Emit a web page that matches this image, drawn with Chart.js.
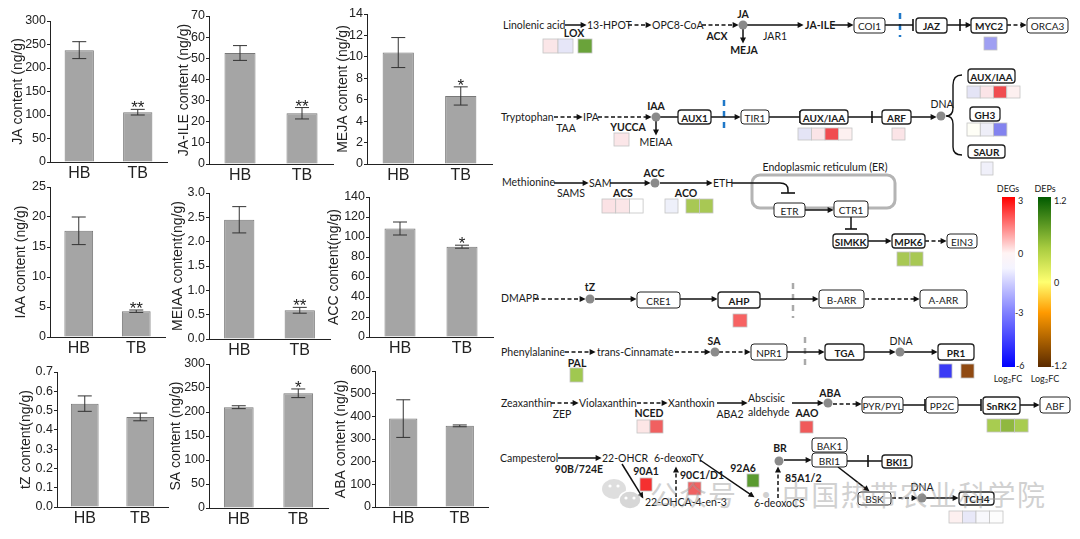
<!DOCTYPE html>
<html>
<head>
<meta charset="utf-8">
<script src="https://cdn.jsdelivr.net/npm/chart.js@4.4.1/dist/chart.umd.min.js"></script>
<style>
html, body { margin: 0; padding: 0; background: #fff; }
#page { position: relative; width: 1080px; height: 539px; overflow: hidden; background: #fff; }
#page canvas { position: absolute; }
#path { position: absolute; left: 0; top: 0; }
</style>
</head>
<body>
<div id="page"><svg id="path" width="1080" height="539"></svg></div>
<script>
// ---- data ----
const categories = ['HB', 'TB'];

const jaValues = [238, 106];      const jaErrors = [18, 6];       const jaStars = ['', '**'];
const jaileValues = [52.5, 24];   const jaileErrors = [3.5, 2.7]; const jaileStars = ['', '**'];
const mejaValues = [10.4, 6.35];  const mejaErrors = [1.4, 0.85]; const mejaStars = ['', '*'];
const iaaValues = [17.7, 4.3];    const iaaErrors = [2.3, 0.2];   const iaaStars = ['', '**'];
const meiaaValues = [2.45, 0.59]; const meiaaErrors = [0.27, 0.06]; const meiaaStars = ['', '**'];
const accValues = [108.5, 90.3];  const accErrors = [6.5, 1.5];   const accStars = ['', '*'];
const tzValues = [0.536, 0.467];  const tzErrors = [0.04, 0.02];  const tzStars = ['', ''];
const saValues = [210, 239];      const saErrors = [3, 9];        const saStars = ['', '*'];
const abaValues = [390, 358];     const abaErrors = [83, 4];      const abaStars = ['', ''];

// y axis: [min, max, step, decimals]
const jaTicks = [0, 300, 50, 0];
const jaileTicks = [0, 70, 10, 0];
const mejaTicks = [0, 14, 2, 0];
const iaaTicks = [0, 25, 5, 0];
const meiaaTicks = [0, 3, 0.5, 1];
const accTicks = [0, 140, 20, 0];
const tzTicks = [0, 0.7, 0.1, 1];
const saTicks = [0, 300, 50, 0];
const abaTicks = [0, 600, 100, 0];

const FONT = "'Liberation Sans', Arial, sans-serif";
const INK = '#222';

// draws the error bars and significance stars on top of the bars
const errorBars = {
    id: 'errorBars',
    afterDatasetsDraw(chart) {
        const ctx = chart.ctx;
        const y = chart.scales.y;
        const ds = chart.data.datasets[0];
        chart.getDatasetMeta(0).data.forEach((bar, i) => {
            const v = ds.data[i], e = ds.errors[i];
            const yTop = y.getPixelForValue(v + e);
            const yBot = y.getPixelForValue(v - e);
            ctx.save();
            ctx.strokeStyle = '#333';
            ctx.lineWidth = 1;
            ctx.beginPath();
            ctx.moveTo(bar.x, yTop); ctx.lineTo(bar.x, yBot);
            ctx.moveTo(bar.x - 7, yTop); ctx.lineTo(bar.x + 7, yTop);
            ctx.moveTo(bar.x - 7, yBot); ctx.lineTo(bar.x + 7, yBot);
            ctx.stroke();
            if (ds.stars[i]) {
                ctx.fillStyle = INK;
                ctx.font = '17px ' + FONT;
                ctx.textAlign = 'center';
                ctx.textBaseline = 'alphabetic';
                ctx.fillText(ds.stars[i], bar.x, yTop + 4);
            }
            ctx.restore();
        });
    }
};

function makeChart(box, values, errors, stars, ticks, title) {
    const left = Math.round(box.tx - 8.4);
    const top = box.pt - 10;
    const canvas = document.createElement('canvas');
    canvas.width = box.pr - left + 2;
    canvas.height = box.pb - top + 25;
    canvas.style.left = left + 'px';
    canvas.style.top = top + 'px';
    document.getElementById('page').appendChild(canvas);
    const yw = box.pl - left;

    new Chart(canvas.getContext('2d'), {
        type: 'bar',
        data: {
            labels: categories,
            datasets: [{
                data: values,
                errors: errors,
                stars: stars,
                backgroundColor: '#a5a5a5',
                borderColor: '#787878',
                borderWidth: 1,
                barPercentage: 0.5,
                categoryPercentage: 1
            }]
        },
        options: {
            responsive: false,
            animation: false,
            devicePixelRatio: 1,
            layout: { padding: { top: 10, right: 2, left: 0, bottom: 0 } },
            plugins: { legend: { display: false }, tooltip: { enabled: false } },
            scales: {
                x: {
                    grid: { display: false, drawTicks: false, tickLength: 0 },
                    border: { display: true, color: INK, width: 1 },
                    ticks: { color: INK, font: { family: FONT, size: 16 }, padding: 2, maxRotation: 0 },
                    afterFit: s => { s.height = 25; }
                },
                y: {
                    min: ticks[0],
                    max: ticks[1],
                    ticks: {
                        stepSize: ticks[2],
                        color: INK,
                        font: { family: FONT, size: 12.5 },
                        padding: 1,
                        callback: v => Number(v).toFixed(ticks[3])
                    },
                    grid: { drawOnChartArea: false, drawTicks: true, tickLength: 3, color: INK },
                    border: { color: INK, width: 1 },
                    title: { display: true, text: title, color: INK, font: { family: FONT, size: 14 }, padding: 0 },
                    afterFit: s => { s.width = yw; }
                }
            }
        },
        plugins: [errorBars]
    });
}

// plot area corners (pl, pt, pb, pr) and axis title centre (tx)
makeChart({ pl: 50, pt: 21, pb: 162, pr: 167, tx: 18 }, jaValues, jaErrors, jaStars, jaTicks, 'JA content (ng/g)');
makeChart({ pl: 209, pt: 16, pb: 164, pr: 333, tx: 184 }, jaileValues, jaileErrors, jaileStars, jaileTicks, 'JA-ILE content (ng/g)');
makeChart({ pl: 367, pt: 14, pb: 164, pr: 492, tx: 343 }, mejaValues, mejaErrors, mejaStars, mejaTicks, 'MEJA content (ng/g)');
makeChart({ pl: 50, pt: 187, pb: 337, pr: 165, tx: 21 }, iaaValues, iaaErrors, iaaStars, iaaTicks, 'IAA content (ng/g)');
makeChart({ pl: 209, pt: 193, pb: 339, pr: 330, tx: 178 }, meiaaValues, meiaaErrors, meiaaStars, meiaaTicks, 'MEIAA content(ng/g)');
makeChart({ pl: 369, pt: 197, pb: 337, pr: 493, tx: 334 }, accValues, accErrors, accStars, accTicks, 'ACC content(ng/g)');
makeChart({ pl: 57, pt: 372, pb: 507, pr: 168, tx: 26 }, tzValues, tzErrors, tzStars, tzTicks, 'tZ content(ng/g)');
makeChart({ pl: 209, pt: 364, pb: 508, pr: 328, tx: 176 }, saValues, saErrors, saStars, saTicks, 'SA content (ng/g)');
makeChart({ pl: 375, pt: 371, pb: 507, pr: 488, tx: 341 }, abaValues, abaErrors, abaStars, abaTicks, 'ABA content (ng/g)');

// ---- pathway diagram (schematic, drawn in svg) ----
const NS = 'http://www.w3.org/2000/svg';
const svg = document.getElementById('path');
const PFONT = "Lato, 'Open Sans', sans-serif";

function el(tag, attrs, parent) {
    const e = document.createElementNS(NS, tag);
    for (const k in attrs) e.setAttribute(k, attrs[k]);
    (parent || svg).appendChild(e);
    return e;
}

const defs = el('defs', {});
const mk = el('marker', { id: 'ah', viewBox: '0 0 10 10', refX: 9, refY: 5, markerWidth: 7, markerHeight: 6, markerUnits: 'userSpaceOnUse', orient: 'auto' }, defs);
el('path', { d: 'M0,0 L10,5 L0,10 z', fill: '#111' }, mk);

function grad(id, stops) {
    const g = el('linearGradient', { id: id, x1: 0, y1: 0, x2: 0, y2: 1 }, defs);
    stops.forEach(s => el('stop', { offset: s[0], 'stop-color': s[1] }, g));
}
grad('degs', [[0, '#ff0000'], [0.33, '#fff4f4'], [0.42, '#f4f4ff'], [0.68, '#8080ff'], [1, '#0000ff']]);
grad('deps', [[0, '#005a00'], [0.3, '#a8cc40'], [0.5, '#ffff70'], [0.68, '#ff9a00'], [1, '#5a2a00']]);

function text(x, y, s, bold, anchor, size, color) {
    const t = el('text', {
        x: x, y: y, 'font-family': PFONT, 'font-size': size || 10.5,
        'font-weight': bold ? 'bold' : 'normal', 'text-anchor': anchor || 'start',
        'dominant-baseline': 'central', fill: color || '#1a1a1a'
    });
    t.textContent = s;
    return t;
}

function line(x1, y1, x2, y2, dashed, color, width) {
    return el('line', { x1, y1, x2, y2, stroke: color || '#111', 'stroke-width': width || 1.5, 'stroke-dasharray': dashed || 'none' });
}

function arrow(a) {
    const [x1, y1, x2, y2, dashed] = a;
    const l = Math.hypot(x2 - x1, y2 - y1);
    const ex = x2 - (x2 - x1) / l * 4, ey = y2 - (y2 - y1) / l * 4;
    line(x1, y1, ex, ey, dashed ? '4 2.5' : null);
    el('line', { x1: x1, y1: y1, x2: x2, y2: y2, stroke: 'transparent', 'stroke-width': 1, 'marker-end': 'url(#ah)' });
}

function inhibit(a) {
    const [x1, y1, x2, y2] = a;
    line(x1, y1, x2, y2);
    const l = Math.hypot(x2 - x1, y2 - y1);
    const nx = -(y2 - y1) / l * 6, ny = (x2 - x1) / l * 6;
    line(x2 - nx, y2 - ny, x2 + nx, y2 + ny, null, '#111', 1.6);
}

const pArrows = [
    [565, 25, 586, 25, 0], [628, 25, 651, 25, 1], [702, 25, 738, 25, 1], [743, 29, 743, 43, 0], [747, 25, 803, 25, 0],
    [832, 25, 853, 25, 0], [960, 25, 971, 25, 0], [1007, 25, 1026, 25, 1],
    [554, 117, 582, 117, 1], [598, 117, 651, 117, 1], [656, 121, 656, 135, 0], [711, 117, 740, 117, 0], [911, 117, 936, 117, 0],
    [554, 183, 588, 183, 0], [610, 183, 650, 183, 0], [660, 183, 712, 183, 0], [805, 210, 833, 210, 0],
    [868, 241, 891, 241, 0], [925, 241, 946, 241, 1],
    [535, 299, 585, 299, 1], [595, 299, 636, 299, 0], [680, 299, 717, 299, 0], [760, 299, 818, 299, 0], [865, 299, 919, 299, 1],
    [565, 352, 595, 352, 1], [675, 352, 710, 352, 1], [719, 352, 750, 352, 1], [787, 352, 824, 352, 0], [864, 352, 895, 352, 0], [904, 352, 937, 352, 0],
    [551, 403, 578, 403, 1], [637, 403, 667, 403, 1], [717, 403, 747, 403, 0], [792, 403, 823, 403, 0], [833, 404, 861, 404, 1], [1020, 405, 1039, 405, 0],
    [558, 458, 601, 458, 0], [622, 464, 643, 498, 0], [676, 497, 676, 467, 1], [700, 460, 754, 497, 0], [778, 498, 778, 467, 1],
    [784, 460, 811, 460, 0], [838, 467, 869, 491, 0], [892, 498, 917, 498, 1], [926, 498, 958, 498, 0]
];
const pInhibits = [
    [885, 25, 913, 25], [947, 25, 960, 25], [769, 117, 800, 117], [848, 117, 872, 117], [903, 405, 925, 405], [958, 405, 981, 405],
    [847, 461, 868, 461], [851, 217, 851, 229]
];
const pLines = [[660, 117, 678, 117], [872, 117, 882, 117], [868, 461, 882, 461]];
const pMarks = [
    [900, 13, 900, 37, '#1f78c8'], [724, 100, 724, 133, '#1f78c8'], [793, 283, 793, 318, '#aaaaaa'], [805, 337, 805, 365, '#aaaaaa']
];
const pBoxes = [
    [854, 18, 885, 33, 'COI1', 0], [916, 18, 947, 33, 'JAZ', 1], [971, 18, 1007, 33, 'MYC2', 1], [1027, 18, 1068, 33, 'ORCA3', 0],
    [678, 110, 711, 124, 'AUX1', 1], [741, 110, 769, 124, 'TIR1', 0], [800, 110, 848, 124, 'AUX/IAA', 1], [882, 110, 911, 124, 'ARF', 1],
    [968, 69, 1015, 83, 'AUX/IAA', 1], [970, 107, 1000, 121, 'GH3', 1], [968, 145, 1005, 158, 'SAUR', 1],
    [774, 203, 805, 217, 'ETR', 0], [834, 201, 868, 217, 'CTR1', 0], [833, 234, 868, 248, 'SIMKK', 1], [892, 234, 925, 248, 'MPK6', 1], [947, 234, 977, 248, 'EIN3', 0],
    [637, 292, 680, 308, 'CRE1', 0], [718, 292, 760, 308, 'AHP', 1], [819, 290, 864, 308, 'B-ARR', 0], [920, 290, 967, 308, 'A-ARR', 0],
    [751, 344, 787, 360, 'NPR1', 0], [825, 344, 864, 360, 'TGA', 1], [938, 344, 974, 360, 'PR1', 1],
    [862, 397, 903, 413, 'PYR/PYL', 0], [926, 397, 958, 413, 'PP2C', 0], [983, 397, 1020, 414, 'SnRK2', 1], [1040, 397, 1070, 413, 'ABF', 0],
    [812, 438, 847, 452, 'BAK1', 0], [812, 453, 847, 467, 'BRI1', 0], [882, 455, 912, 468, 'BKI1', 1], [858, 492, 891, 505, 'BSK', 0], [959, 492, 994, 505, 'TCH4', 1]
];
const pCircles = [[743, 25], [656, 117], [941, 116], [655, 183], [590, 299], [715, 352], [900, 352], [828, 403], [779, 461], [922, 498]];
const pCells = [
    [543, 39, 15, 14, ['#fbe6e8', '#e6e6f8']], [578, 39, 14, 14, ['#6aa33a']], [984, 37, 13, 13, ['#9f9ff2']],
    [614, 133, 15, 13, ['#fbe6e8']], [798, 128, 13.5, 12, ['#e4e4f6', '#fbe4e7', '#f04c50', '#fdf0f0']], [892, 128, 13, 12, ['#fbe4e7']],
    [967, 86, 13.25, 12, ['#e4e4f6', '#fbe4e7', '#f04c50', '#fdf0f0']], [967, 123, 13.3, 13, ['#fefef6', '#eeeef8', '#8383ef']], [981, 162, 12, 13, ['#f0f0fa']],
    [602, 199, 13.7, 14, ['#fbe2e5', '#fbe6e8', '#ffffff']], [665, 199, 13, 14, ['#eef0fa']], [686, 199, 13.5, 14, ['#a8c854', '#a8c854']],
    [897, 252, 13, 14, ['#a8c854', '#a8c854']],
    [733, 314, 14, 13, ['#f76363']], [570, 368, 13, 14, ['#a0c850']], [939, 364, 13, 14, ['#3b3bf5']], [961, 364, 13, 14, ['#904a12']],
    [637, 420, 13, 13, ['#fde6e6', '#f06060']], [800, 421, 13, 12, ['#f05a5a']], [987, 419, 13.7, 13, ['#a8cc50', '#90b840', '#a8cc50']],
    [640, 478, 12, 13, ['#f53030']], [688, 482, 13, 13, ['#f06262']], [747, 474, 12, 13, ['#5a9a30']],
    [949, 511, 13.5, 12, ['#fdf0f0', '#e8e8f8', '#f8f8fc', '#fdfdfd']]
];
const pTexts = [
    [503, 25, 'Linolenic acid', 0, 'start'], [587, 25, '13-HPOT', 0, 'start'], [652, 25, 'OPC8-CoA', 0, 'start'],
    [743, 14, 'JA', 1, 'middle'], [744, 50, 'MEJA', 1, 'middle'], [717, 36, 'ACX', 1, 'middle'], [775, 36, 'JAR1', 0, 'middle'],
    [805, 25, 'JA-ILE', 1, 'start'], [574, 33, 'LOX', 1, 'middle'],
    [501, 117, 'Tryptophan', 0, 'start'], [583, 117, 'IPA', 0, 'start'], [566, 128, 'TAA', 0, 'middle'],
    [656, 106, 'IAA', 1, 'middle'], [656, 142, 'MEIAA', 0, 'middle'], [628, 127, 'YUCCA', 1, 'middle'], [942, 104, 'DNA', 0, 'middle'],
    [502, 182, 'Methionine', 0, 'start'], [571, 193, 'SAMS', 0, 'middle'], [589, 183, 'SAM', 0, 'start'],
    [654, 173, 'ACC', 1, 'middle'], [623, 193, 'ACS', 1, 'middle'], [686, 193, 'ACO', 1, 'middle'], [713, 183, 'ETH', 0, 'start'],
    [825, 167, 'Endoplasmic reticulum (ER)', 0, 'middle'],
    [501, 298, 'DMAPP', 0, 'start'], [590, 287, 'tZ', 1, 'middle'],
    [501, 352, 'Phenylalanine', 0, 'start'], [597, 352, 'trans-Cinnamate', 0, 'start'], [714, 341, 'SA', 1, 'middle'],
    [577, 363, 'PAL', 1, 'middle'], [901, 341, 'DNA', 0, 'middle'],
    [501, 403, 'Zeaxanthin', 0, 'start'], [562, 414, 'ZEP', 0, 'middle'], [579, 403, 'Violaxanthin', 0, 'start'],
    [668, 403, 'Xanthoxin', 0, 'start'], [649, 413, 'NCED', 1, 'middle'], [730, 414, 'ABA2', 0, 'middle'],
    [748, 398, 'Abscisic', 0, 'start'], [748, 412, 'aldehyde', 0, 'start'], [830, 393, 'ABA', 1, 'middle'], [807, 413, 'AAO', 1, 'middle'],
    [500, 458, 'Campesterol', 0, 'start'], [579, 469, '90B/724E', 1, 'middle'], [602, 458, '22-OHCR', 0, 'start'],
    [654, 458, '6-deoxoTY', 0, 'start'], [645, 502, '22-OHCA-4-en-3', 0, 'start'], [680, 475, '90C1/D1', 1, 'start'],
    [646, 471, '90A1', 1, 'middle'], [754, 503, '6-deoxoCS', 0, 'start'], [743, 468, '92A6', 1, 'middle'],
    [780, 448, 'BR', 1, 'middle'], [785, 478, '85A1/2', 1, 'start'], [922, 487, 'DNA', 0, 'middle']
];

// endoplasmic reticulum outline
el('rect', { x: 752, y: 175, width: 143, height: 33, rx: 8, fill: 'none', stroke: '#b4b4b4', 'stroke-width': 3 });

pMarks.forEach(m => line(m[0], m[1], m[2], m[3], '6 5', m[4], 2.5));
pLines.forEach(l => line(l[0], l[1], l[2], l[3]));
pArrows.forEach(arrow);
pInhibits.forEach(inhibit);

// ETH inhibits ETR (curved line)
el('path', { d: 'M732,183 L780,183 Q788,183 788,190 L788,193', fill: 'none', stroke: '#111', 'stroke-width': 1.5 });
line(781, 193, 795, 193, null, '#111', 1.6);

// brace to the auxin response genes
el('path', { d: 'M962,75 Q953,75 953,85 L953,108 Q953,116 946,116 Q953,116 953,124 L953,147 Q953,155 962,155', fill: 'none', stroke: '#111', 'stroke-width': 1.4 });

pBoxes.forEach(b => {
    el('rect', { x: b[0], y: b[1], width: b[2] - b[0], height: b[3] - b[1], rx: 3, fill: '#fff', stroke: '#222', 'stroke-width': b[5] ? 1.3 : 1 });
    text((b[0] + b[2]) / 2, (b[1] + b[3]) / 2 + 0.5, b[4], b[5], 'middle', 10);
});
pCircles.forEach(c => el('circle', { cx: c[0], cy: c[1], r: 4.5, fill: '#8a8a8a' }));
pCells.forEach(c => {
    c[4].forEach((col, i) => {
        el('rect', { x: c[0] + i * c[2], y: c[1], width: c[2], height: c[3], fill: col, stroke: '#c4c4c4', 'stroke-width': 0.8 });
    });
});
pTexts.forEach(t => text(t[0], t[1], t[2], t[3], t[4]));

// colour keys
el('rect', { x: 1002, y: 197, width: 13, height: 170, fill: 'url(#degs)' });
el('rect', { x: 1038, y: 197, width: 13, height: 170, fill: 'url(#deps)' });
[[1008, 188, 'DEGs', 'middle'], [1045, 188, 'DEPs', 'middle'], [1018, 200, '3'], [1018, 253, '0'], [1015, 312, '-3'], [1016, 365, '-6'],
 [1054, 200, '1.2'], [1054, 282, '0'], [1051, 365, '-1.2']].forEach(t => text(t[0], t[1], t[2], 0, t[3] || 'start', 9));
[1008, 1045].forEach(x => {
    const t = text(x, 378, 'Log', 0, 'middle', 9);
    const s = el('tspan', { 'font-size': 6, dy: 2 }, t); s.textContent = '2';
    const f = el('tspan', { dy: -2 }, t); f.textContent = 'FC';
});

// watermark
const wm = el('g', { opacity: 0.45 });
el('ellipse', { cx: 614, cy: 489, rx: 12, ry: 10, fill: '#b8b8b8' }, wm);
el('ellipse', { cx: 630, cy: 500, rx: 11, ry: 9, fill: '#a8a8a8', stroke: '#fff', 'stroke-width': 1.5 }, wm);
[[610, 486], [618, 486], [626, 498], [634, 498]].forEach(p => el('circle', { cx: p[0], cy: p[1], r: 1.6, fill: '#fff' }, wm));
const w1 = el('text', { x: 650, y: 506, 'font-family': "'Noto Sans CJK SC', sans-serif", 'font-size': 28, fill: '#9a9a9a', textLength: 86 }, wm);
w1.textContent = '公众号';
const w2 = el('text', { x: 752, y: 506, 'font-family': "'Noto Sans CJK SC', sans-serif", 'font-size': 28, fill: '#9a9a9a' }, wm);
w2.textContent = '·';
const w3 = el('text', { x: 782, y: 506, 'font-family': "'Noto Sans CJK SC', sans-serif", 'font-size': 28, fill: '#9a9a9a', textLength: 263 }, wm);
w3.textContent = '中国热带农业科学院';
</script>
</body>
</html>
